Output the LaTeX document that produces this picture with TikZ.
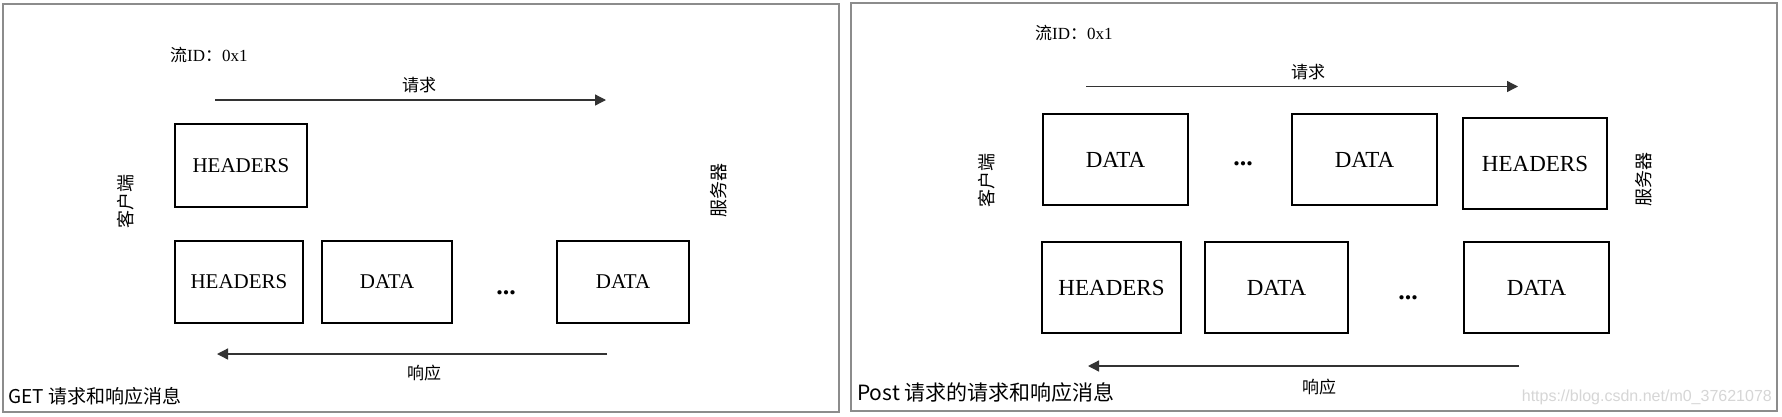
\documentclass[tikz,border=0pt]{standalone}
\usepackage{fontspec}
\setmainfont{Liberation Serif}
\newfontfamily\cjk{Noto Sans CJK SC}
\newfontfamily\wmfont{Liberation Sans}
\usetikzlibrary{arrows.meta}
\definecolor{framegray}{HTML}{8C8C8C}
\definecolor{arrowgray}{HTML}{333333}
\definecolor{wmgray}{HTML}{D6D6D6}
\tikzset{
  panel/.style={draw=framegray, line width=1.5pt},
  pkt/.style={draw=black, line width=2pt, rectangle, inner sep=0pt, font=\fontsize{21}{21}\selectfont},
  pktb/.style={pkt, font=\fontsize{23}{23}\selectfont},
  flow/.style={draw=arrowgray, line width=1.3pt, -{Triangle[length=11pt,width=11pt]}},
  lbl/.style={inner sep=0pt, font=\cjk\fontsize{17}{17}\selectfont},
  side/.style={inner sep=0pt, rotate=90, font=\cjk\fontsize{18}{18}\selectfont},
  fid/.style={inner sep=0pt, anchor=west, font=\fontsize{17}{17}\selectfont},
  dots/.style={inner sep=0pt, anchor=base, font=\bfseries\fontsize{26}{26}\selectfont},
  captxt/.style={inner sep=0pt, anchor=west, font=\cjk\fontsize{19}{19}\selectfont},
  captxtb/.style={captxt, font=\cjk\fontsize{21}{21}\selectfont},
  wm/.style={inner sep=0pt, anchor=east, text=wmgray, font=\wmfont\fontsize{16}{16}\selectfont}
}
\begin{document}
\begin{tikzpicture}[x=1pt,y=-1pt]
\useasboundingbox (0,0) rectangle (1782,416);
\fill[white] (0,0) rectangle (1782,416);

% ---------- left panel ----------
\draw[panel] (3,4) rectangle (839,412);
\node[fid] (lfid) at (170,55) {{\cjk 流}ID{\cjk ：}0x1};
\node[lbl] (lreq) at (419,85) {请求};
\coordinate (lreqs) at (215,100);
\coordinate (lreqe) at (606,100);
\draw[flow] (lreqs) -- (lreqe);

\node[pkt, minimum width=132pt, minimum height=83pt] (lh1) at (241,165.5) {HEADERS};
\node[side] (lcli) at (126,201) {客户端};
\node[side] (lsrv) at (719,190) {服务器};

\node[pkt, minimum width=128pt, minimum height=82pt] (lh2) at (239,282) {HEADERS};
\node[pkt, minimum width=130pt, minimum height=82pt] (ld2) at (387,282) {DATA};
\node[dots] (ldots) at (506,294) {...};
\node[pkt, minimum width=132pt, minimum height=82pt] (ld3) at (623,282) {DATA};

\coordinate (lress) at (607,354);
\coordinate (lrese) at (217,354);
\draw[flow] (lress) -- (lrese);
\node[lbl] (lres) at (424,373) {响应};
\node[captxt] (lcap) at (8,396) {GET 请求和响应消息};

% ---------- right panel ----------
\draw[panel] (851,3) rectangle (1777,411);
\node[fid] (rfid) at (1035,33) {{\cjk 流}ID{\cjk ：}0x1};
\node[lbl] (rreq) at (1308,72) {请求};
\coordinate (rreqs) at (1086,86.5);
\coordinate (rreqe) at (1518,86.5);
\draw[flow] (rreqs) -- (rreqe);

\node[pktb, minimum width=145pt, minimum height=91pt] (rd1) at (1115.5,159.5) {DATA};
\node[dots] (rdots1) at (1243,165) {...};
\node[pktb, minimum width=145pt, minimum height=91pt] (rd2) at (1364.5,159.5) {DATA};
\node[pktb, minimum width=144pt, minimum height=91pt] (rh1) at (1535,163.5) {HEADERS};
\node[side] (rcli) at (987,180) {客户端};
\node[side] (rsrv) at (1644,179) {服务器};

\node[pktb, minimum width=139pt, minimum height=91pt] (rh2) at (1111.5,287.5) {HEADERS};
\node[pktb, minimum width=143pt, minimum height=91pt] (rd3) at (1276.5,287.5) {DATA};
\node[dots] (rdots2) at (1408,299) {...};
\node[pktb, minimum width=145pt, minimum height=91pt] (rd4) at (1536.5,287.5) {DATA};

\coordinate (rress) at (1519,366);
\coordinate (rrese) at (1088,366);
\draw[flow] (rress) -- (rrese);
\node[lbl] (rres) at (1319,387) {响应};
\node[captxtb] (rcap) at (857,392) {Post 请求的请求和响应消息};
\node[wm] (wmark) at (1772,397) {https://blog.csdn.net/m0\_37621078};
\end{tikzpicture}
\end{document}
